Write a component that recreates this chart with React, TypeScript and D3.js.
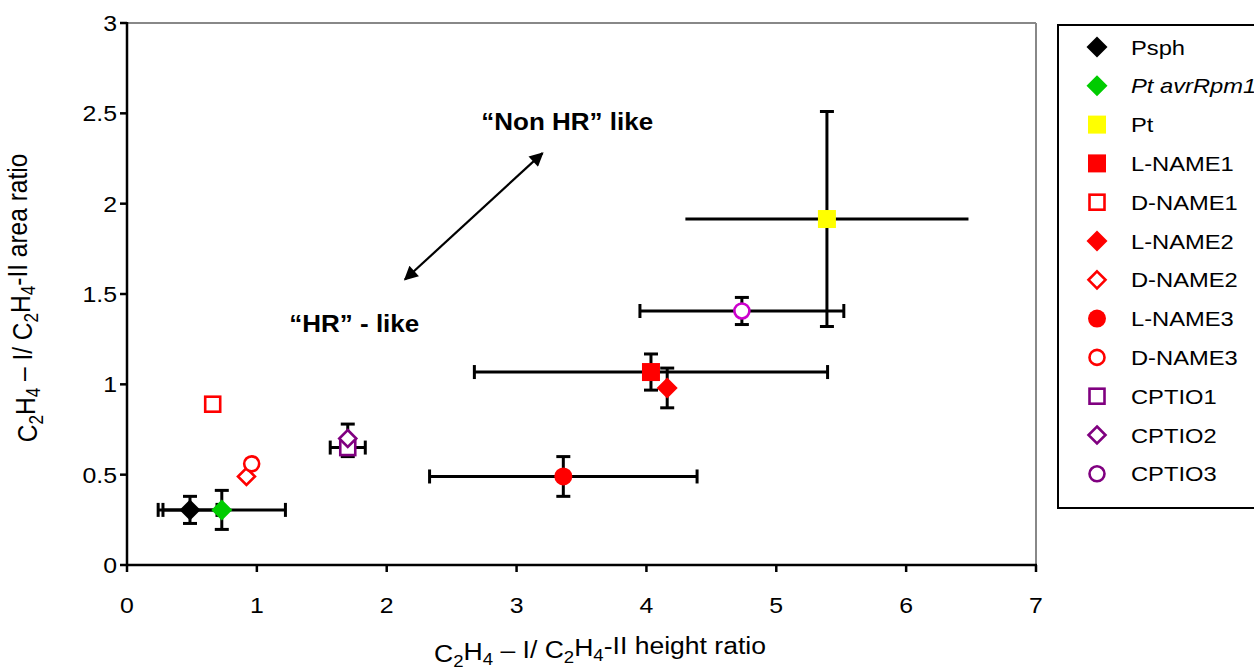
import React from "react";
import * as d3 from "d3";

const seriesNames = ["Psph", "Pt avrRpm1", "Pt", "L-NAME1", "D-NAME1", "L-NAME2", "D-NAME2", "L-NAME3", "D-NAME3", "CPTIO1", "CPTIO2", "CPTIO3"];
const xValues = [0.485, 0.73, 5.39, 4.035, 0.66, 4.16, 0.92, 3.36, 0.96, 1.7, 1.7, 4.735];
const yValues = [0.305, 0.305, 1.915, 1.068, 0.89, 0.98, 0.49, 0.49, 0.56, 0.65, 0.7, 1.406];
const xErrors = [0.208, 0.49, 1.09, 1.36, 0, 0, 0, 1.03, 0, 0.135, 0, 0.785];
const yErrors = [0.075, 0.108, 0.595, 0.1, 0, 0.11, 0, 0.11, 0, 0.05, 0.08, 0.075];
const shapes = ["diamond", "diamond", "square", "square", "square", "diamond", "diamond", "circle", "circle", "square", "diamond", "circle"];
const filled = [true, true, true, true, false, true, false, true, false, false, false, false];
const colors = ["#000000", "#00CC00", "#FFFF00", "#FF0000", "#FF0000", "#FF0000", "#FF0000", "#FF0000", "#FF0000", "#800080", "#800080", "#800080"];
const plotColors = ["#000000", "#00CC00", "#FFFF00", "#FF0000", "#FF0000", "#FF0000", "#FF0000", "#FF0000", "#FF0000", "#800080", "#800080", "#CC00CC"];
const noXCaps = ["Pt"];
const xTicks = [0, 1, 2, 3, 4, 5, 6, 7];
const yTicks = [0, 0.5, 1, 1.5, 2, 2.5, 3];

const W = 1254, H = 671;
const left = 127, right = 1036, top = 23, bottom = 565;
const FONT = "'Liberation Sans', Arial, sans-serif";
const STRETCH = 1.13;

function Marker({ shape, fill, color, cx, cy }: any) {
  if (shape === "square") {
    const h = fill ? 9 : 7.5;
    return <rect x={cx - h} y={cy - h} width={2 * h} height={2 * h} fill={fill ? color : "white"} stroke={fill ? "none" : color} strokeWidth={2.6} />;
  }
  if (shape === "diamond") {
    const h = fill ? 10.5 : 8.5;
    const p = `M${cx},${cy - h}L${cx + h},${cy}L${cx},${cy + h}L${cx - h},${cy}Z`;
    return <path d={p} fill={fill ? color : "white"} stroke={fill ? "none" : color} strokeWidth={2.6} />;
  }
  const r = fill ? 9 : 7.5;
  return <circle cx={cx} cy={cy} r={r} fill={fill ? color : "white"} stroke={fill ? "none" : color} strokeWidth={2.6} />;
}

function SText({ x, y, anchor, size, children, weight, italic, dy }: any) {
  return (
    <text transform={`translate(${x},${y}) scale(${STRETCH},1)`} textAnchor={anchor || "start"} fontSize={size}
      fontWeight={weight || "normal"} fontStyle={italic ? "italic" : "normal"} dy={dy}>
      {children}
    </text>
  );
}

function Sub({ children }: any) {
  return <tspan fontSize="0.7em" dy="0.3em">{children}</tspan>;
}

function Formula({ tail }: any) {
  return (
    <>
      C<Sub>2</Sub><tspan dy="-0.3em">H</tspan><Sub>4</Sub><tspan dy="-0.3em"> – I/ C</tspan><Sub>2</Sub><tspan dy="-0.3em">H</tspan><Sub>4</Sub><tspan dy="-0.3em">{tail}</tspan>
    </>
  );
}

export default function App() {
  const x = d3.scaleLinear().domain([0, 7]).range([left, right]);
  const y = d3.scaleLinear().domain([0, 3]).range([bottom, top]);
  const cap = 7;
  const errW = 3;
  const legendTop = 47, legendStep = 38.8;

  return (
    <svg width={W} height={H} style={{ position: "absolute", left: 0, top: 0, background: "white" }} fontFamily={FONT}>
      <defs>
        <marker id="ah2" viewBox="0 0 10 10" refX="9" refY="5" markerWidth="18" markerHeight="14" orient="auto-start-reverse" markerUnits="userSpaceOnUse">
          <path d="M0,0L10,5L0,10Z" fill="black" />
        </marker>
      </defs>
      {/* plot frame */}
      <line x1={left} y1={top} x2={right} y2={top} stroke="#888" strokeWidth={2} />
      <line x1={right} y1={top} x2={right} y2={bottom} stroke="#888" strokeWidth={2} />
      {/* axes */}
      <line x1={left} y1={top - 1} x2={left} y2={bottom + 1} stroke="black" strokeWidth={2.5} />
      <line x1={left - 1} y1={bottom} x2={right + 1} y2={bottom} stroke="black" strokeWidth={2.5} />
      {yTicks.map((t) => (
        <g key={"y" + t}>
          <line x1={left - 7} x2={left} y1={y(t)} y2={y(t)} stroke="black" strokeWidth={2.5} />
          <SText x={left - 10} y={y(t)} dy="0.36em" anchor="end" size={22}>{t}</SText>
        </g>
      ))}
      {xTicks.map((t) => (
        <g key={"x" + t}>
          <line x1={x(t)} x2={x(t)} y1={bottom} y2={bottom + 7} stroke="black" strokeWidth={2.5} />
          <SText x={x(t)} y={613} anchor="middle" size={22}>{t}</SText>
        </g>
      ))}
      {/* axis titles */}
      <SText x={600} y={662} anchor="middle" size={23.5}>
        <Formula tail="-II height ratio" />
      </SText>
      <text transform={`translate(37,298) rotate(-90) scale(1,${STRETCH})`} textAnchor="middle" fontSize={24.5}>
        <Formula tail="-II area ratio" />
      </text>
      {/* annotations */}
      <line x1={x(2.14)} y1={y(1.58)} x2={x(3.2)} y2={y(2.28)} stroke="black" strokeWidth={2.2} markerStart="url(#ah2)" markerEnd="url(#ah2)" />
      <SText x={x(3.39)} y={y(2.41)} anchor="middle" size={23} weight="bold">“Non HR” like</SText>
      <SText x={x(1.75)} y={y(1.29)} anchor="middle" size={23} weight="bold">“HR” - like</SText>
      {/* error bars */}
      {seriesNames.map((n, i) => {
        const cx = x(xValues[i]), cy = y(yValues[i]);
        const els: any[] = [];
        if (xErrors[i] > 0) {
          const x0 = x(xValues[i] - xErrors[i]), x1 = x(xValues[i] + xErrors[i]);
          els.push(<line key="h" x1={x0} x2={x1} y1={cy} y2={cy} stroke="black" strokeWidth={errW} />);
          if (!noXCaps.includes(n)) {
            els.push(<line key="hc0" x1={x0} x2={x0} y1={cy - cap} y2={cy + cap} stroke="black" strokeWidth={errW} />);
            els.push(<line key="hc1" x1={x1} x2={x1} y1={cy - cap} y2={cy + cap} stroke="black" strokeWidth={errW} />);
          }
        }
        if (yErrors[i] > 0) {
          const y0 = y(yValues[i] - yErrors[i]), y1 = y(yValues[i] + yErrors[i]);
          els.push(<line key="v" x1={cx} x2={cx} y1={y0} y2={y1} stroke="black" strokeWidth={errW} />);
          els.push(<line key="vc0" x1={cx - cap} x2={cx + cap} y1={y0} y2={y0} stroke="black" strokeWidth={errW} />);
          els.push(<line key="vc1" x1={cx - cap} x2={cx + cap} y1={y1} y2={y1} stroke="black" strokeWidth={errW} />);
        }
        return <g key={"e" + n}>{els}</g>;
      })}
      {/* markers */}
      {seriesNames.map((n, i) => (
        <Marker key={"m" + n} shape={shapes[i]} fill={filled[i]} color={plotColors[i]} cx={x(xValues[i])} cy={y(yValues[i])} />
      ))}
      {/* legend */}
      <rect x={1058} y={25} width={220} height={483} fill="white" stroke="black" strokeWidth={2} />
      {seriesNames.map((n, i) => {
        const ly = legendTop + i * legendStep;
        return (
          <g key={"l" + n}>
            <Marker shape={shapes[i]} fill={filled[i]} color={colors[i]} cx={1097} cy={ly} />
            <SText x={1131} y={ly} dy="0.36em" size={21} italic={n === "Pt avrRpm1"}>{n}</SText>
          </g>
        );
      })}
    </svg>
  );
}
